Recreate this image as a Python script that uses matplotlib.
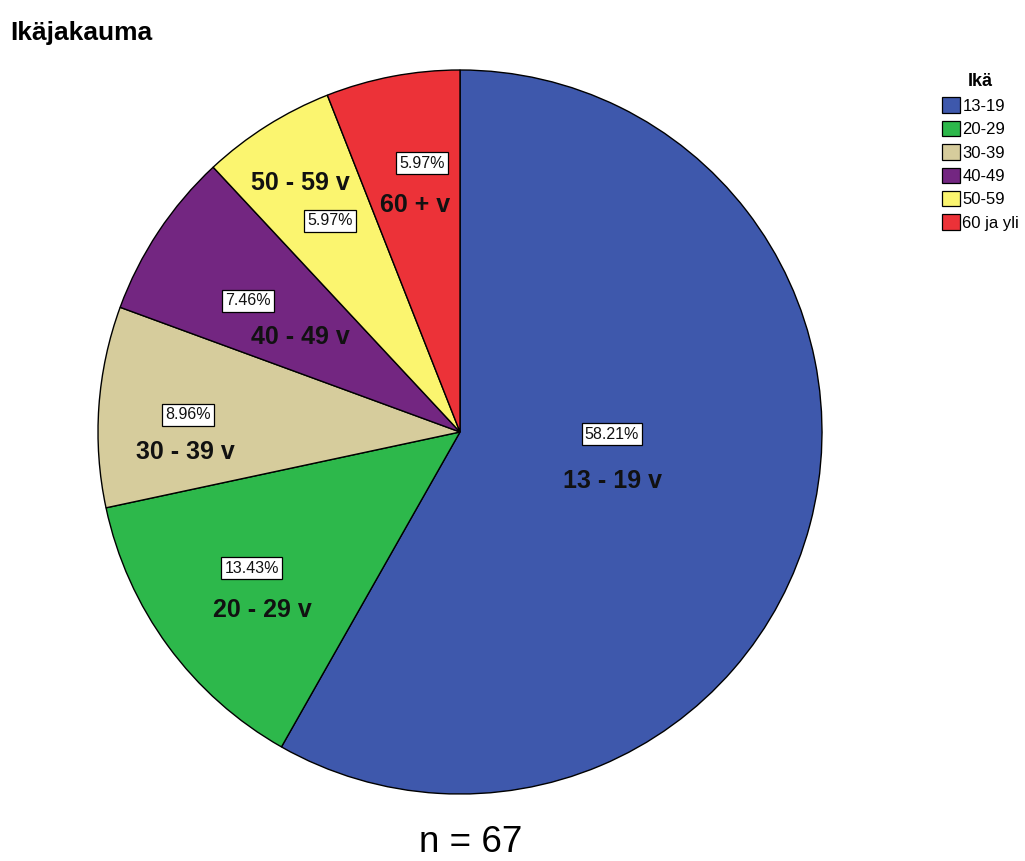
import matplotlib
matplotlib.use("Agg")
import matplotlib.pyplot as plt
from matplotlib.patches import Patch

plt.rcParams['font.family'] = ['Liberation Sans', 'DejaVu Sans']

# age groups and head counts (n = 67)
groups = ['13-19', '20-29', '30-39', '40-49', '50-59', '60 ja yli']
slice_names = ['13 - 19 v', '20 - 29 v', '30 - 39 v', '40 - 49 v', '50 - 59 v', '60 + v']
counts = [39, 9, 6, 5, 4, 4]
colors = ['#3E58AC', '#2DB84B', '#D6CC9C', '#732681', '#FBF56F', '#EC3238']

# label spots in pie units (x, y), percent box and group name
pct_pos = [(0.42, -0.006), (-0.575, -0.376), (-0.751, 0.047),
           (-0.586, 0.362), (-0.359, 0.583), (-0.105, 0.743)]
name_pos = [(0.42, -0.135), (-0.547, -0.492), (-0.76, -0.055),
            (-0.442, 0.262), (-0.442, 0.688), (-0.124, 0.627)]

total = sum(counts)

fig = plt.figure(figsize=(10.25, 8.61), dpi=100)
ax = fig.add_axes([98 / 1025, 67 / 861, 724 / 1025, 724 / 861])
ax.pie(counts, colors=colors, startangle=90, counterclock=False, radius=1,
       wedgeprops=dict(edgecolor='black', linewidth=1.0))
ax.set_xlim(-1, 1)
ax.set_ylim(-1, 1)
ax.set_aspect('equal')
ax.axis('off')

for c, name, p, q in zip(counts, slice_names, pct_pos, name_pos):
    ax.text(p[0], p[1], '%.2f%%' % (100.0 * c / total), ha='center', va='center',
            fontsize=11.5, color='#111111',
            bbox=dict(boxstyle='square,pad=0.2', fc='white', ec='black', lw=0.9))
    ax.text(q[0], q[1], name, ha='center', va='center', fontsize=18,
            fontweight='bold', color='#111111')

fig.text(10 / 1025, 1 - 33 / 861, 'Ikäjakauma', ha='left', va='center',
         fontsize=19, fontweight='bold')
fig.text(471 / 1025, 1 - 843 / 861, 'n = %d' % total, ha='center', va='center',
         fontsize=26.5)

handles = [Patch(facecolor=col, edgecolor='black', linewidth=0.9) for col in colors]
leg = fig.legend(handles, groups, title='Ikä', loc='upper left',
                 bbox_to_anchor=(939 / 1025, 1 - 70 / 861), frameon=False,
                 borderaxespad=0.0, fontsize=12, handlelength=1.05,
                 handleheight=1.05, handletextpad=0.15, labelspacing=0.42,
                 borderpad=0.2)
leg.get_title().set_fontweight('bold')
leg.get_title().set_fontsize(13)

fig.savefig('out.png', dpi=100, facecolor='white')
